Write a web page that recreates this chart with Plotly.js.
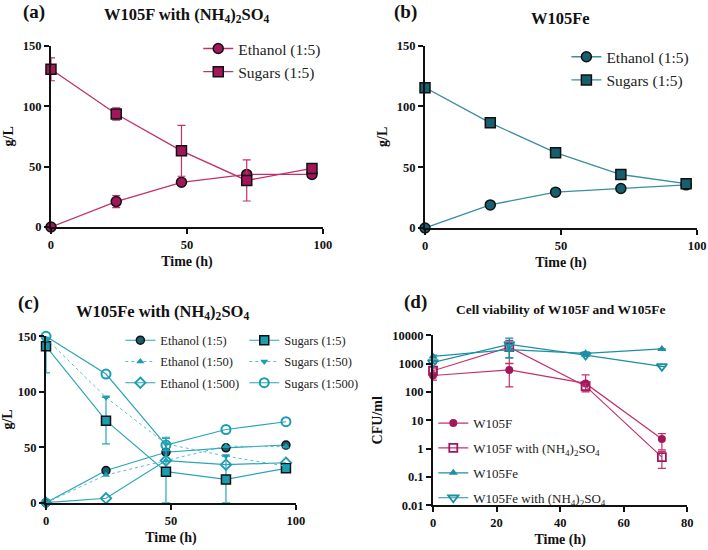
<!DOCTYPE html>
<html>
<head>
<meta charset="utf-8">
<script src="https://cdn.plot.ly/plotly-3.0.1.min.js"></script>
<style>html,body{margin:0;padding:0;background:#fff;}#chart{width:708px;height:550px;}</style>
</head>
<body>
<div id="chart"></div>
<script>
// ---- data ----
const timeH = [0, 24, 48, 72, 96];
const aEthanol = [0, 21, 37, 43.5, 43.5];
const aEthanolErr = [0, 5, 0, 0, 0];
const aSugars = [130.5, 93.5, 63, 38.5, 48.5];
const aSugarsErr = [9.5, 5, 21, 17, 0];

const bEthanol = [0, 19, 29.5, 32.5, 35.5];
const bSugars = [115.5, 86.5, 62, 44, 36.5];

const cEthanol5 = [0, 29, 45.5, 49.5, 52];
const cEthanol50 = [0, 25, 38, 51, 50.5];
const cEthanol500 = [0, 4, 38, 34.3, 36];
const cSugars5 = [141, 74, 28, 21, 31];
const cSugars5ErrPlus = [0, 21, 30, 21, 0];
const cSugars5ErrMinus = [24, 21, 28, 21, 0];
const cSugars50 = [148, 95, 53, 42, 33];
const cSugars50Err = [0, 0, 6, 0, 0];
const cSugars500 = [150, 116, 52, 66, 73];

const timeD = [0, 24, 48, 72];
const dW105F = [380, 600, 200, 2.2];
const dW105FErrPlus = [120, 420, 200, 1.2];
const dW105FErrMinus = [120, 450, 100, 1.3];
const dW105FN = [560, 3800, 160, 0.5];
const dW105FNErr = [100, 2800, 50, 0.3];
const dW105Fe = [1800, 3100, 2300, 3300];
const dW105FeErr = [200, 1500, 300, 0];
const dW105FeN = [1100, 4800, 2000, 800];
const dW105FeNErr = [100, 3200, 200, 0];

const labelsA = ['Ethanol (1:5)', 'Sugars (1:5)'];
const labelsC = ['Ethanol (1:5)', 'Ethanol (1:50)', 'Ethanol (1:500)', 'Sugars (1:5)', 'Sugars (1:50)', 'Sugars (1:500)'];
const labelsD = ['W105F', 'W105F with (NH<sub>4</sub>)<sub>2</sub>SO<sub>4</sub>', 'W105Fe', 'W105Fe with (NH<sub>4</sub>)<sub>2</sub>SO<sub>4</sub>'];
const yTickVals = [0.01, 0.1, 1, 10, 100, 1000, 10000];
const yTickText = ['0.01', '0.1', '1', '10', '100', '1000', '10000'];

// ---- styles ----
const SERIF = '"Liberation Serif", "Times New Roman", serif';
const crimsonM = '#a3175a', crimsonL = '#c2306e';
const tealDarkM = '#175f6f', tealDarkL = '#3a8e9f';
const tealM = '#1a9db0', tealL = '#2aa5bb', tealDot = '#5cbccc';
const tealD = '#1c8fa5';

function errObj(arr, color, minus) {
  const o = {type: 'data', array: arr, visible: true, color: color, thickness: 1.2, width: 4};
  if (minus) { o.symmetric = false; o.arrayminus = minus; }
  return o;
}

const traces = [];
// (a)
traces.push({x: timeH, y: aEthanol, name: labelsA[0], xaxis: 'x', yaxis: 'y', legend: 'legend', legendgroup: 'a1',
  mode: 'lines+markers', cliponaxis: false, line: {color: crimsonL, width: 1.3},
  marker: {symbol: 'circle', size: 10, color: crimsonM, line: {color: '#111', width: 1.5}},
  error_y: errObj(aEthanolErr, crimsonL)});
traces.push({x: timeH, y: aSugars, name: labelsA[1], xaxis: 'x', yaxis: 'y', legend: 'legend', legendgroup: 'a2',
  mode: 'lines+markers', cliponaxis: false, line: {color: crimsonL, width: 1.3},
  marker: {symbol: 'square', size: 10, color: crimsonM, line: {color: '#111', width: 1.5}},
  error_y: errObj(aSugarsErr, crimsonL)});
// (b)
traces.push({x: timeH, y: bEthanol, name: labelsA[0], xaxis: 'x2', yaxis: 'y2', legend: 'legend2', legendgroup: 'b1',
  mode: 'lines+markers', cliponaxis: false, line: {color: tealDarkL, width: 1.3},
  marker: {symbol: 'circle', size: 10, color: tealDarkM, line: {color: '#111', width: 1.5}}});
traces.push({x: timeH, y: bSugars, name: labelsA[1], xaxis: 'x2', yaxis: 'y2', legend: 'legend2', legendgroup: 'b2',
  mode: 'lines+markers', cliponaxis: false, line: {color: tealDarkL, width: 1.3},
  marker: {symbol: 'square', size: 10, color: tealDarkM, line: {color: '#111', width: 1.5}}});
// (c) ethanol column
traces.push({x: timeH, y: cEthanol5, name: labelsC[0], xaxis: 'x3', yaxis: 'y3', legend: 'legend3', legendgroup: 'c1',
  mode: 'lines+markers', cliponaxis: false, line: {color: tealL, width: 1.2},
  marker: {symbol: 'circle', size: 8, color: tealDarkM, line: {color: '#111', width: 1.5}}});
traces.push({x: timeH, y: cEthanol50, name: labelsC[1], xaxis: 'x3', yaxis: 'y3', legend: 'legend3', legendgroup: 'c2',
  mode: 'lines+markers', cliponaxis: false, line: {color: tealDot, width: 1, dash: 'dot'},
  marker: {symbol: 'triangle-up', size: 7, color: tealM, line: {width: 0}}});
traces.push({x: timeH, y: cEthanol500, name: labelsC[2], xaxis: 'x3', yaxis: 'y3', legend: 'legend3', legendgroup: 'c3',
  mode: 'lines+markers', cliponaxis: false, line: {color: tealL, width: 1.2},
  marker: {symbol: 'diamond-open', size: 8, color: tealM, line: {width: 1.8}}});
// (c) sugars column
traces.push({x: timeH, y: cSugars5, name: labelsC[3], xaxis: 'x3', yaxis: 'y3', legend: 'legend4', legendgroup: 'c4',
  mode: 'lines+markers', cliponaxis: false, line: {color: tealL, width: 1.2},
  marker: {symbol: 'square', size: 9, color: tealM, line: {color: '#111', width: 1.5}},
  error_y: errObj(cSugars5ErrPlus, tealL, cSugars5ErrMinus)});
traces.push({x: timeH, y: cSugars50, name: labelsC[4], xaxis: 'x3', yaxis: 'y3', legend: 'legend4', legendgroup: 'c5',
  mode: 'lines+markers', cliponaxis: false, line: {color: tealDot, width: 1, dash: 'dot'},
  marker: {symbol: 'triangle-down', size: 7, color: tealM, line: {width: 0}},
  error_y: errObj(cSugars50Err, tealL)});
traces.push({x: timeH, y: cSugars500, name: labelsC[5], xaxis: 'x3', yaxis: 'y3', legend: 'legend4', legendgroup: 'c6',
  mode: 'lines+markers', cliponaxis: false, line: {color: tealL, width: 1.2},
  marker: {symbol: 'circle-open', size: 9, color: tealM, line: {width: 2}}});
// (d)
traces.push({x: timeD, y: dW105F, name: labelsD[0], xaxis: 'x4', yaxis: 'y4', legend: 'legend5', legendgroup: 'd1',
  mode: 'lines+markers', cliponaxis: false, line: {color: crimsonL, width: 1.2},
  marker: {symbol: 'circle', size: 8, color: crimsonM},
  error_y: errObj(dW105FErrPlus, crimsonL, dW105FErrMinus)});
traces.push({x: timeD, y: dW105FN, name: labelsD[1], xaxis: 'x4', yaxis: 'y4', legend: 'legend5', legendgroup: 'd2',
  mode: 'lines+markers', cliponaxis: false, line: {color: crimsonL, width: 1.2},
  marker: {symbol: 'square-open', size: 8, color: crimsonM, line: {width: 1.8}},
  error_y: errObj(dW105FNErr, crimsonL)});
traces.push({x: timeD, y: dW105Fe, name: labelsD[2], xaxis: 'x4', yaxis: 'y4', legend: 'legend5', legendgroup: 'd3',
  mode: 'lines+markers', cliponaxis: false, line: {color: tealD, width: 1.2},
  marker: {symbol: 'triangle-up', size: 8, color: tealD},
  error_y: errObj(dW105FeErr, tealD)});
traces.push({x: timeD, y: dW105FeN, name: labelsD[3], xaxis: 'x4', yaxis: 'y4', legend: 'legend5', legendgroup: 'd4',
  mode: 'lines+markers', cliponaxis: false, line: {color: tealD, width: 1.2},
  marker: {symbol: 'triangle-down-open', size: 9, color: tealD, line: {width: 1.8}},
  error_y: errObj(dW105FeNErr, tealD)});

const tickFont = {family: SERIF, size: 12.5, color: '#111', weight: 700};
const titleFont = {family: SERIF, size: 14, color: '#111', weight: 700};
function xAx(domain, anchor, range, dtick) {
  return {domain: domain, anchor: anchor, range: range, dtick: dtick, tick0: 0, showgrid: false, zeroline: false,
    showline: true, linecolor: '#111', linewidth: 2, ticks: 'outside', ticklen: 5, tickwidth: 2, tickcolor: '#111',
    tickfont: tickFont, title: {text: 'Time (h)', font: titleFont, standoff: 5}, fixedrange: true};
}
function yAx(domain, anchor, range, dtick, title) {
  return {domain: domain, anchor: anchor, range: range, dtick: dtick, tick0: 0, showgrid: false, zeroline: false,
    showline: true, linecolor: '#111', linewidth: 2, ticks: 'outside', ticklen: 5, tickwidth: 2, tickcolor: '#111',
    tickfont: tickFont, title: {text: title, font: titleFont, standoff: 6}, fixedrange: true};
}
function leg(x, y, size, gap) {
  return {x: x, y: y, xanchor: 'left', yanchor: 'top', bgcolor: 'rgba(0,0,0,0)', borderwidth: 0,
    font: {family: SERIF, size: size, color: '#222'}, tracegroupgap: gap, itemwidth: 30, traceorder: 'grouped'};
}

const yD = yAx([0.0813, 0.3904], 'x4', [-2, 4], null, 'CFU/ml');
yD.type = 'log';
yD.tickvals = yTickVals; yD.ticktext = yTickText;
delete yD.dtick; delete yD.tick0;

const ann = [];
function addAnn(text, x, y, size) {
  ann.push({text: text, x: x, y: y, xref: 'paper', yref: 'paper', showarrow: false, xanchor: 'center', yanchor: 'middle',
    font: {family: SERIF, size: size, color: '#111', weight: 700}});
}
addAnn('(a)', 0.048, 0.978, 19);
addAnn('W105F with (NH<sub>4</sub>)<sub>2</sub>SO<sub>4</sub>', 0.264, 0.972, 16.5);
addAnn('(b)', 0.573, 0.978, 19);
addAnn('W105Fe', 0.792, 0.967, 16.5);
addAnn('(c)', 0.040, 0.449, 19);
addAnn('W105Fe with (NH<sub>4</sub>)<sub>2</sub>SO<sub>4</sub>', 0.230, 0.433, 16.5);
addAnn('(d)', 0.587, 0.4515, 19);
addAnn('Cell viability of W105F and W105Fe', 0.792, 0.4364, 13.5);

const layout = {
  width: 708, height: 550, margin: {l: 0, r: 0, t: 0, b: 0},
  paper_bgcolor: '#fff', plot_bgcolor: 'rgba(0,0,0,0)', showlegend: true,
  font: {family: SERIF, color: '#111'},
  xaxis: xAx([0.072, 0.456], 'y', [0, 100], 50),
  yaxis: yAx([0.5873, 0.9169], 'x', [0, 150], 50, 'g/L'),
  xaxis2: xAx([0.6003, 0.9845], 'y2', [0, 100], 50),
  yaxis2: yAx([0.5855, 0.9169], 'x2', [0, 150], 50, 'g/L'),
  xaxis3: xAx([0.065, 0.418], 'y3', [0, 100], 50),
  yaxis3: yAx([0.086, 0.3885], 'x3', [0, 150], 50, 'g/L'),
  xaxis4: xAx([0.6116, 0.9708], 'y4', [0, 80], 20),
  yaxis4: yD,
  legend: leg(0.28, 0.942, 15.5, 0),
  legend2: leg(0.80, 0.927, 15.5, 0),
  legend3: leg(0.17, 0.408, 12.5, 2),
  legend4: leg(0.345, 0.408, 12.5, 2),
  legend5: leg(0.612, 0.258, 13, 5)
};
layout.annotations = ann;

Plotly.newPlot('chart', traces, layout, {displayModeBar: false, staticPlot: true});
</script>
</body>
</html>
